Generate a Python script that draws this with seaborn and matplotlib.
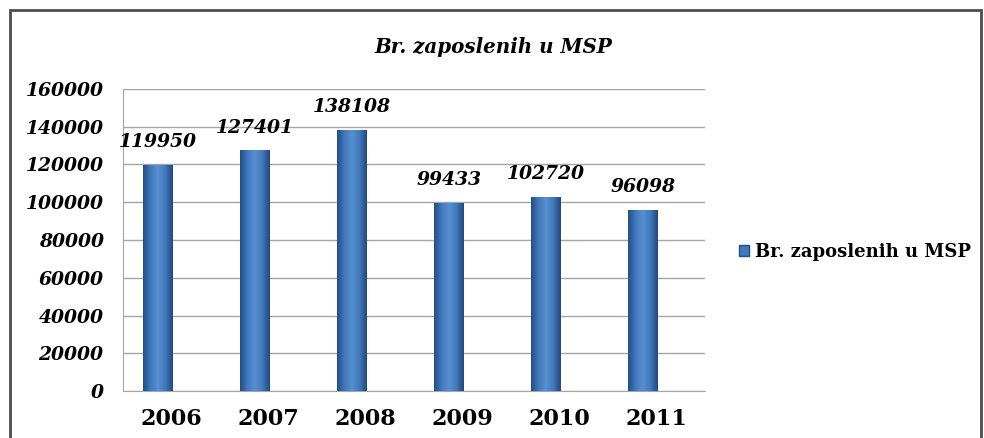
import numpy as np
import matplotlib
matplotlib.use("Agg")
import matplotlib.pyplot as plt
from matplotlib.colors import LinearSegmentedColormap
from matplotlib.patches import Rectangle
import seaborn as sns

years = ['2006', '2007', '2008', '2009', '2010', '2011']
employees = [119950, 127401, 138108, 99433, 102720, 96098]
series_name = 'Br. zaposlenih u MSP'

sns.set_style("white")
plt.rcParams['font.family'] = ['DejaVu Serif']
plt.rcParams['text.color'] = 'black'
plt.rcParams['xtick.color'] = 'black'
plt.rcParams['ytick.color'] = 'black'

fig = plt.figure(figsize=(9.84, 4.38), dpi=100)
ax = fig.add_axes([0.125, 0.107, 0.5915, 0.69])

sns.barplot(x=years, y=employees, color='#3a72b5', saturation=1, width=0.3,
            ax=ax, zorder=3)

# cylinder look: horizontal gradient clipped to each bar, shifted a bit left (3D depth)
cyl = LinearSegmentedColormap.from_list('cyl', ['#234f88', '#4279bd', '#5690d0', '#4279bd', '#21497f'])
grad = np.linspace(0, 1, 64).reshape(1, -1)
for p in ax.patches:
    p.set_x(p.get_x() - 0.14)
    p.set_edgecolor('none')
    x0, w, h = p.get_x(), p.get_width(), p.get_height()
    im = ax.imshow(grad, extent=[x0, x0 + w, 0, h], aspect='auto', cmap=cyl, zorder=3.5)
    im.set_clip_path(p)

ax.set_xlim(-0.5, 5.5)
ax.set_ylim(0, 160000)
ax.set_yticks(range(0, 160001, 20000))
ax.yaxis.grid(True, color='#a6a6a6', linewidth=1)
ax.set_axisbelow(True)
for s in ['top', 'right']:
    ax.spines[s].set_visible(False)
for s in ['left', 'bottom']:
    ax.spines[s].set_color('#a6a6a6')

ax.tick_params(axis='y', length=8, color='#a6a6a6', direction='out', pad=6)
ax.tick_params(axis='x', which='major', length=0, pad=12)
ax.set_xticks(np.arange(-0.5, 6, 1), minor=True)
ax.tick_params(axis='x', which='minor', length=6, color='#a6a6a6', direction='out')

for lab in ax.get_yticklabels():
    lab.set_fontsize(13.5)
    lab.set_fontweight('bold')
    lab.set_fontstyle('italic')
for lab in ax.get_xticklabels():
    lab.set_fontsize(16)
    lab.set_fontweight('bold')

ax.bar_label(ax.containers[0], padding=10, fontsize=13.5, fontweight='bold', fontstyle='italic')

fig.text(0.501, 1 - 47 / 438, series_name, ha='center', va='center',
         fontsize=14.3, fontweight='bold', fontstyle='italic')

handle = Rectangle((0, 0), 1, 1, facecolor='#4279bd', edgecolor='#234f88')
fig.legend([handle], [series_name], loc='center left', bbox_to_anchor=(0.734, 1 - 252 / 438),
           frameon=False, handlelength=0.6, handleheight=0.6, handletextpad=0.3,
           prop={'size': 13, 'weight': 'bold'})

fig.patches.append(Rectangle((10 / 984, -0.05), 971 / 984, 1.05 - 10 / 438,
                             transform=fig.transFigure, fill=False,
                             edgecolor='#4d4d4d', linewidth=2))

ax.set_xlabel('')
ax.set_ylabel('')
fig.savefig('out.png', dpi=100)
